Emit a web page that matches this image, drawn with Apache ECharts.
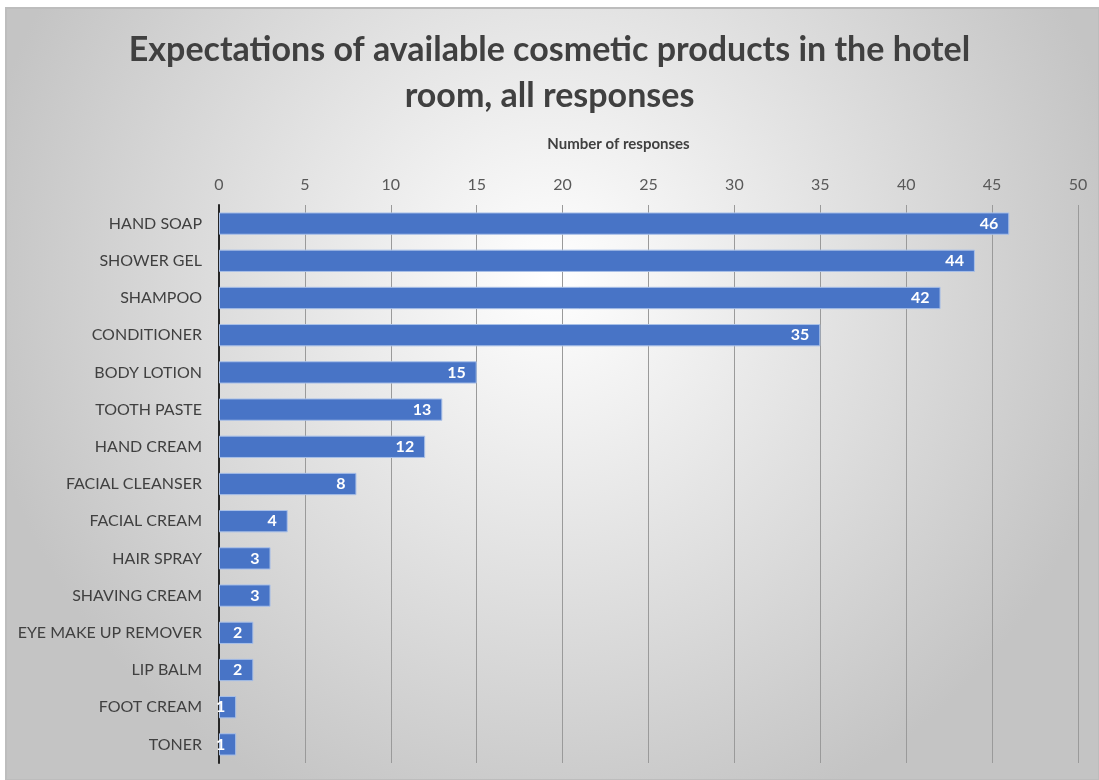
<!DOCTYPE html>
<html>
<head>
<meta charset="utf-8">
<script src="https://cdn.jsdelivr.net/npm/echarts@6/dist/echarts.min.js"></script>
<style>
  html, body { margin: 0; padding: 0; background: #ffffff; }
  #chart { width: 1099px; height: 780px; }
</style>
</head>
<body>
<div id="chart"></div>
<script>
// product names, top to bottom as in the picture
var products = ['HAND SOAP', 'SHOWER GEL', 'SHAMPOO', 'CONDITIONER', 'BODY LOTION',
  'TOOTH PASTE', 'HAND CREAM', 'FACIAL CLEANSER', 'FACIAL CREAM', 'HAIR SPRAY',
  'SHAVING CREAM', 'EYE MAKE UP REMOVER', 'LIP BALM', 'FOOT CREAM', 'TONER'];
var responses = [46, 44, 42, 35, 15, 13, 12, 8, 4, 3, 3, 2, 2, 1, 1];
var ticks = [0, 5, 10, 15, 20, 25, 30, 35, 40, 45, 50];

var chart = echarts.init(document.getElementById('chart'));
var option = {
  backgroundColor: '#ffffff',
  graphic: [{
    type: 'rect',
    z: -10,
    shape: { x: 6, y: 8, width: 1093, height: 772 },
    style: {
      fill: new echarts.graphic.RadialGradient(0.5, 0.35, 0.75, [
        { offset: 0, color: '#ffffff' },
        { offset: 1, color: '#c4c4c4' }
      ]),
      stroke: '#bdbdbd',
      lineWidth: 2
    }
  }],
  title: {
    text: 'Expectations of available cosmetic products in the hotel\nroom, all responses',
    left: 'center',
    top: 22,
    textStyle: {
      fontFamily: 'Lato',
      fontWeight: 'bold',
      fontSize: 34,
      lineHeight: 46,
      color: '#404040'
    }
  },
  grid: { left: 219, right: 21, top: 205, bottom: 17 },
  xAxis: {
    type: 'value',
    position: 'top',
    min: ticks[0],
    max: ticks[ticks.length - 1],
    interval: 5,
    name: 'Number of responses',
    nameLocation: 'middle',
    nameGap: 53,
    nameTextStyle: {
      fontFamily: 'Lato',
      fontWeight: 'bold',
      fontSize: 15,
      color: '#404040',
      padding: [0, 60, 0, 0]
    },
    axisLine: { show: false },
    axisTick: { show: false },
    axisLabel: { color: '#595959', fontSize: 16, fontFamily: 'Lato', margin: 12 },
    splitLine: { lineStyle: { color: '#9a9a9a', width: 1 } }
  },
  yAxis: {
    type: 'category',
    inverse: true,
    data: products,
    axisLine: { lineStyle: { color: '#262626', width: 2 } },
    axisTick: { show: false },
    axisLabel: { color: '#404040', fontSize: 16, fontFamily: 'Lato', margin: 17 }
  },
  series: [{
    type: 'bar',
    data: responses,
    barCategoryGap: '40%',
    itemStyle: { color: '#4874c6', borderColor: '#a9c0e8', borderWidth: 1 },
    label: {
      show: true,
      position: 'insideRight',
      distance: 11,
      color: '#ffffff',
      fontWeight: 'bold',
      fontSize: 16,
      fontFamily: 'Lato'
    }
  }]
};
chart.setOption(option);
</script>
</body>
</html>
